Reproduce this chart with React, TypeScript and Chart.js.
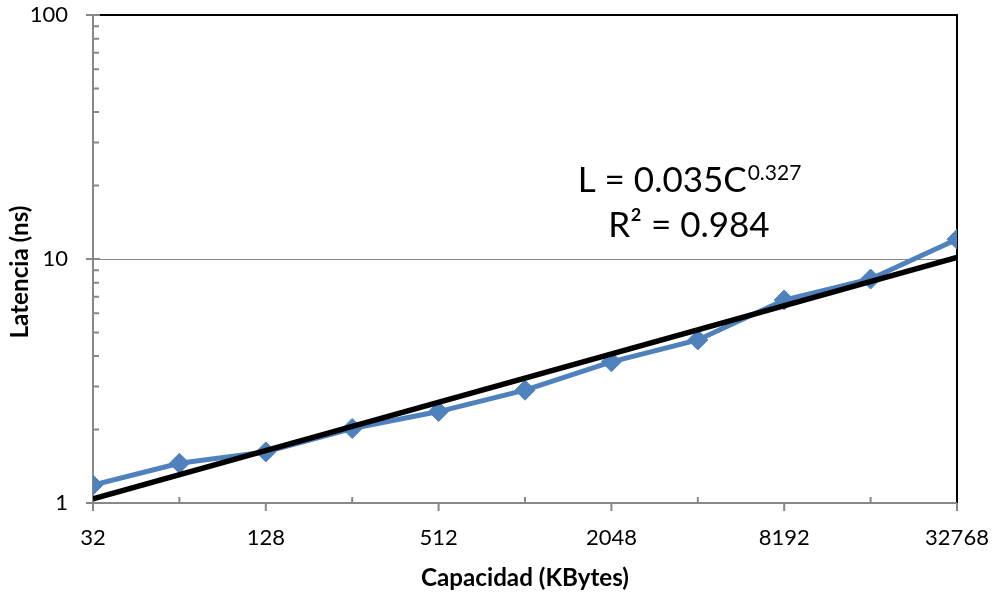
import React, { useEffect, useRef } from "react";
import { Chart, registerables } from "chart.js";

Chart.register(...registerables);

// ---- data ----
const capacities = [32, 64, 128, 256, 512, 1024, 2048, 4096, 8192, 16384, 32768];
const latencies = [1.185, 1.455, 1.62, 2.02, 2.37, 2.9, 3.79, 4.66, 6.79, 8.28, 12.04];
const trendCapacities = [32, 32768];
const trendLatencies = [1.04, 10.15];
const xLabeledTicks = [32, 128, 512, 2048, 8192, 32768];
const yMajorTicks = [1, 10, 100];
const yMinorTicks = [2, 3, 4, 5, 6, 7, 8, 9, 20, 30, 40, 50, 60, 70, 80, 90];
const equationMain = "L = 0.035C";
const equationExp = "0.327";
const equationR2 = "R\u00B2 = 0.984";
const xTitle = "Capacidad (KBytes)";
const yTitle = "Latencia (ns)";

const FONT = "Lato, 'Open Sans', sans-serif";
const AXIS_GRAY = "#878787";
const BLUE = "#4F81BD";

function fitFont(ctx: CanvasRenderingContext2D, text: string, target: number, weight: string) {
  ctx.font = `${weight} 24px ${FONT}`;
  const w = ctx.measureText(text).width;
  const size = (24 * target) / w;
  return `${weight} ${size.toFixed(1)}px ${FONT}`;
}

export default function App() {
  const ref = useRef<HTMLCanvasElement | null>(null);

  useEffect(() => {
    document.body.style.margin = "0";
    const canvas = ref.current;
    if (!canvas) return;

    const framePlugin = {
      id: "frame",
      beforeDatasetsDraw(chart: any) {
        const { ctx, chartArea } = chart;
        const xs = chart.scales.x;
        const ys = chart.scales.y;
        const { left, right, top, bottom } = chartArea;
        ctx.save();
        // gridline at 10
        ctx.strokeStyle = AXIS_GRAY;
        ctx.lineWidth = 1;
        const y10 = Math.round(ys.getPixelForValue(10)) + 0.5;
        ctx.beginPath();
        ctx.moveTo(left, y10);
        ctx.lineTo(right, y10);
        ctx.stroke();
        // black top & right border
        ctx.strokeStyle = "#000";
        ctx.lineWidth = 2;
        ctx.beginPath();
        ctx.moveTo(left, top);
        ctx.lineTo(right, top);
        ctx.lineTo(right, bottom);
        ctx.stroke();
        // gray axes
        ctx.strokeStyle = AXIS_GRAY;
        ctx.lineWidth = 2;
        ctx.beginPath();
        ctx.moveTo(left, top);
        ctx.lineTo(left, bottom);
        ctx.moveTo(left, bottom);
        ctx.lineTo(right, bottom);
        ctx.stroke();
        // y ticks
        ctx.beginPath();
        yMajorTicks.forEach((v) => {
          const p = ys.getPixelForValue(v);
          ctx.moveTo(left - 7, p);
          ctx.lineTo(left + 7, p);
        });
        yMinorTicks.forEach((v) => {
          const p = ys.getPixelForValue(v);
          ctx.moveTo(left, p);
          ctx.lineTo(left + 6, p);
        });
        // x ticks
        capacities.forEach((v) => {
          const p = xs.getPixelForValue(v);
          if (xLabeledTicks.includes(v)) {
            ctx.moveTo(p, bottom);
            ctx.lineTo(p, bottom + 8);
          } else {
            ctx.moveTo(p, bottom);
            ctx.lineTo(p, bottom - 6);
          }
        });
        ctx.stroke();
        ctx.restore();
      },
      afterDraw(chart: any) {
        const { ctx, chartArea } = chart;
        ctx.save();
        ctx.fillStyle = "#000";
        // equation
        const cx = 689;
        ctx.textBaseline = "alphabetic";
        ctx.font = `35px ${FONT}`;
        const mainW = ctx.measureText(equationMain).width;
        ctx.font = `21px ${FONT}`;
        const expW = ctx.measureText(equationExp).width;
        const startX = cx - (mainW + expW) / 2;
        ctx.textAlign = "left";
        ctx.font = `35px ${FONT}`;
        ctx.fillText(equationMain, startX, 192);
        ctx.font = `21px ${FONT}`;
        ctx.fillText(equationExp, startX + mainW + 1, 180);
        ctx.font = `35px ${FONT}`;
        ctx.textAlign = "center";
        ctx.fillText(equationR2, cx, 237);
        // axis titles (same font for both)
        ctx.textAlign = "center";
        const titleFont = fitFont(ctx, xTitle, 208, "bold");
        ctx.font = titleFont;
        ctx.fillText(xTitle, (chartArea.left + chartArea.right) / 2, 586);
        ctx.translate(28, 272);
        ctx.rotate(-Math.PI / 2);
        ctx.fillText(yTitle, 0, 0);
        ctx.restore();
      },
    };

    const chart = new Chart(canvas, {
      type: "line",
      data: {
        datasets: [
          {
            label: "Tendencia",
            data: trendCapacities.map((c, i) => ({ x: c, y: trendLatencies[i] })),
            borderColor: "#000",
            backgroundColor: "#000",
            borderWidth: 5.5,
            pointRadius: 0,
            fill: false,
            tension: 0,
          },
          {
            label: "Latencia",
            data: capacities.map((c, i) => ({ x: c, y: latencies[i] })),
            borderColor: BLUE,
            backgroundColor: BLUE,
            borderWidth: 5,
            pointStyle: "rectRot",
            pointRadius: 10,
            pointBorderWidth: 1,
            pointBorderColor: BLUE,
            pointBackgroundColor: BLUE,
            fill: false,
            tension: 0,
          },
        ],
      },
      options: {
        animation: false,
        responsive: false,
        devicePixelRatio: 1,
        layout: { padding: { top: 15, right: 37, left: 0, bottom: 0 } },
        plugins: {
          legend: { display: false },
          tooltip: { enabled: false },
          title: { display: false },
        },
        scales: {
          x: {
            type: "logarithmic",
            position: "bottom",
            min: 32,
            max: 32768,
            afterBuildTicks: (scale: any) => {
              scale.ticks = capacities.map((v) => ({ value: v }));
            },
            afterFit: (scale: any) => {
              scale.height = 94;
              scale.paddingLeft = 0;
              scale.paddingRight = 0;
            },
            grid: { display: false, drawTicks: false, tickLength: 0 },
            border: { display: false },
            ticks: {
              autoSkip: false,
              maxRotation: 0,
              minRotation: 0,
              padding: 22,
              color: "#000",
              font: { family: FONT, size: 22 },
              callback: (v: any) => (xLabeledTicks.includes(Number(v)) ? String(v) : ""),
            },
          },
          y: {
            type: "logarithmic",
            position: "left",
            min: 1,
            max: 100,
            afterBuildTicks: (scale: any) => {
              scale.ticks = yMajorTicks.map((v) => ({ value: v }));
            },
            afterFit: (scale: any) => {
              scale.width = 93;
              scale.paddingTop = 0;
              scale.paddingBottom = 0;
            },
            grid: { display: false, drawTicks: false, tickLength: 0 },
            border: { display: false },
            ticks: {
              autoSkip: false,
              padding: 25,
              color: "#000",
              font: { family: FONT, size: 22 },
              callback: (v: any) => String(v),
            },
          },
        },
      },
      plugins: [framePlugin],
    } as any);

    return () => chart.destroy();
  }, []);

  return (
    <div style={{ position: "absolute", left: 0, top: 0, width: 994, height: 597 }}>
      <canvas ref={ref} width={994} height={597} />
    </div>
  );
}
